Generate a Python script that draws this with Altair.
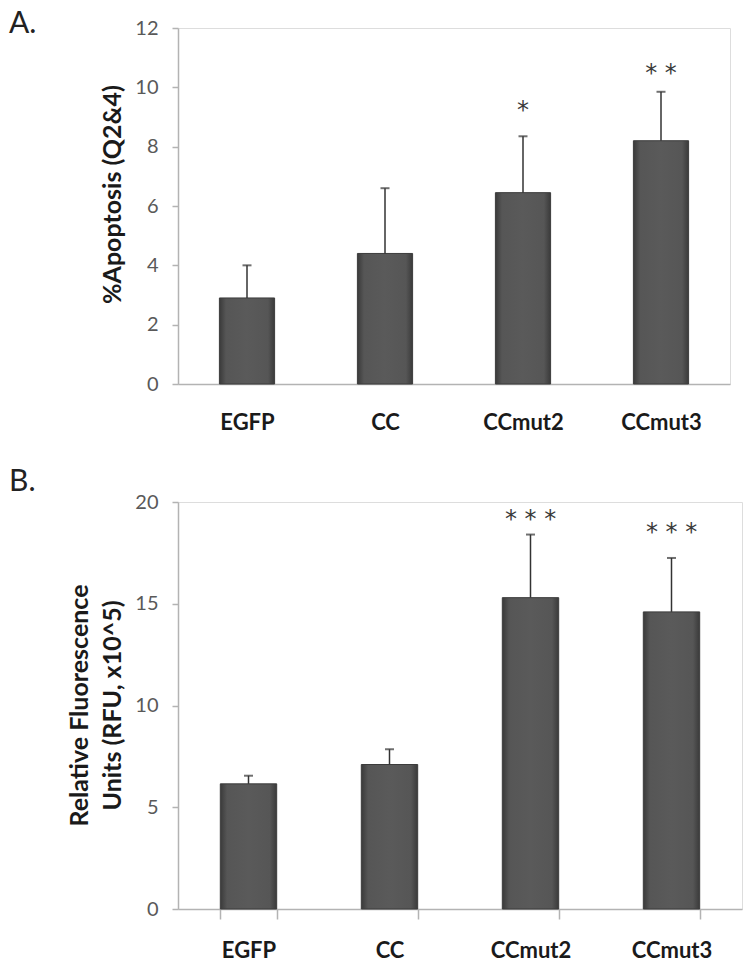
import altair as alt
import pandas as pd

cats = ["EGFP", "CC", "CCmut2", "CCmut3"]

apop_mean = [2.9, 4.4, 6.45, 8.2]
apop_err = [1.1, 2.2, 1.9, 1.65]
apop_sig = ["", "", "*", "* *"]
apop_sig_y = [None, None, 9.45, 10.7]

rfu_mean = [6.15, 7.1, 15.3, 14.6]
rfu_err = [0.4, 0.75, 3.1, 2.65]
rfu_sig = ["", "", "* * *", "* * *"]
rfu_sig_y = [None, None, 19.45, 18.8]

FONT = "Lato"
AXIS_GRAY = "#b3b3b3"

bar_fill = alt.Gradient(
    gradient="linear",
    stops=[
        alt.GradientStop(color="#3a3a3a", offset=0),
        alt.GradientStop(color="#565656", offset=0.12),
        alt.GradientStop(color="#5a5a5a", offset=0.5),
        alt.GradientStop(color="#565656", offset=0.88),
        alt.GradientStop(color="#3a3a3a", offset=1),
    ],
    x1=0, x2=1, y1=0, y2=0,
)


def panel(means, errs, sigs, sig_y, ymax, yvals, ytitle, letter, width, height, xticks,
          title_lh, title_y):
    df = pd.DataFrame({
        "cat": cats,
        "mean": means,
        "upper": [m + e for m, e in zip(means, errs)],
        "sig": sigs,
        "sig_y": sig_y,
    })
    x_axis = alt.Axis(
        title=None, labelAngle=0, ticks=xticks, tickBand="extent", tickSize=10,
        tickColor=AXIS_GRAY, tickWidth=1.5,
        labelFont=FONT, labelFontSize=22, labelFontWeight="bold", labelColor="#1a1a1a",
        labelPadding=(21 if xticks else 28), domainColor=AXIS_GRAY, domainWidth=1.5,
    )
    x = alt.X("cat:N", sort=cats,
              scale=alt.Scale(paddingInner=0.6, paddingOuter=0.3), axis=x_axis)
    y_axis = alt.Axis(
        values=yvals, grid=False, title=ytitle, titleFont=FONT, titleFontSize=25,
        titleFontWeight="bold", titleColor="#1a1a1a", titlePadding=9,
        titleLineHeight=title_lh, titleY=title_y,
        labelFont=FONT, labelFontSize=20, labelColor="#595959", labelPadding=14,
        tickSize=6, tickColor=AXIS_GRAY, tickWidth=1.5,
        domainColor=AXIS_GRAY, domainWidth=1.5,
    )
    yscale = alt.Scale(domain=[0, ymax], nice=False)
    base = alt.Chart(df)
    bars = base.mark_bar(fill=bar_fill, stroke="#3c3c3c", strokeWidth=1).encode(
        x=x, y=alt.Y("mean:Q", scale=yscale, axis=y_axis))
    rule = base.mark_rule(color="#333333", strokeWidth=1.5).encode(
        x=alt.X("cat:N", sort=cats), y="mean:Q", y2="upper:Q")
    cap = base.mark_tick(color="#333333", thickness=2, size=9, orient="horizontal").encode(
        x=alt.X("cat:N", sort=cats), y="upper:Q")
    stars = base.transform_filter("datum.sig != ''").mark_text(
        font="DejaVu Sans", fontSize=24, color="#3a3a3a", baseline="alphabetic", dy=14).encode(
        x=alt.X("cat:N", sort=cats), y="sig_y:Q", text="sig:N")
    lab = alt.Chart(pd.DataFrame({"t": [letter]})).mark_text(
        font=FONT, fontSize=30, color="#222222", align="left", baseline="alphabetic").encode(
        x=alt.value(-169), y=alt.value(5 if letter == "A." else -11), text="t:N")
    return alt.layer(bars, rule, cap, stars, lab).properties(width=width, height=height)


chart_a = panel(apop_mean, apop_err, apop_sig, apop_sig_y, 12, [0, 2, 4, 6, 8, 10, 12],
                "%Apoptosis (Q2&4)", "A.", 552, 356, False, 22, 166)
chart_b = panel(rfu_mean, rfu_err, rfu_sig, rfu_sig_y, 20, [0, 5, 10, 15, 20],
                ["Relative Fluorescence", "Units (RFU, x10^5)"], "B.", 564, 407, True, 33, 203)

chart = alt.vconcat(chart_a, chart_b, spacing=32).properties(padding=0).configure_view(
    stroke=None).configure(background="white")

chart.save("out.html", embed_options={"renderer": "svg", "actions": False})
